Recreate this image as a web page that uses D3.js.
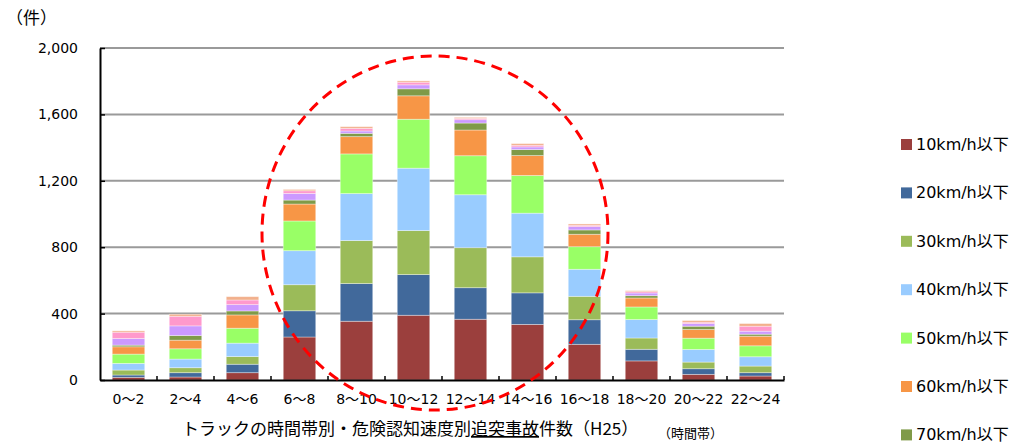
<!DOCTYPE html>
<html>
<head>
<meta charset="utf-8">
<script src="https://cdn.jsdelivr.net/npm/d3@7/dist/d3.min.js"></script>
<style>
  html, body { margin: 0; padding: 0; background: #fff; }
  svg { display: block; }
  text { font-family: "DejaVu Sans", "Noto Sans CJK JP", sans-serif; fill: #000; }
  .jp { font-family: "Noto Sans CJK JP", sans-serif; }
</style>
</head>
<body>
<svg id="chart" width="1021" height="442"></svg>
<script>
// Time bands (hours of day)
const categories = ["0～2", "2～4", "4～6", "6～8", "8～10", "10～12",
                    "12～14", "14～16", "16～18", "18～20", "20～22", "22～24"];

// Speed at which danger was recognised
const seriesNames = ["10km/h以下", "20km/h以下", "30km/h以下", "40km/h以下", "50km/h以下",
                     "60km/h以下", "70km/h以下", "80km/h以下", "90km/h以下", "100km/h以下"];

// Accident counts per time band for each speed class
const v10  = [16, 18, 44, 259, 354, 390, 366, 335, 215, 115, 34, 24];
const v20  = [14, 26, 51, 158, 227, 245, 190, 190, 148, 70, 34, 20];
const v30  = [30, 30, 46, 157, 259, 265, 241, 217, 141, 68, 40, 40];
const v40  = [40, 52, 81, 205, 283, 376, 319, 263, 163, 111, 76, 56];
const v50  = [56, 62, 90, 179, 239, 295, 235, 227, 136, 76, 68, 66];
const v60  = [44, 52, 80, 102, 104, 141, 155, 120, 75, 54, 52, 58];
const v70  = [10, 28, 24, 24, 20, 42, 42, 36, 26, 14, 20, 12];
const v80  = [40, 58, 38, 40, 14, 24, 20, 16, 20, 16, 16, 18];
const v90  = [38, 58, 28, 16, 16, 16, 8, 10, 8, 8, 8, 30];
const v100 = [8, 12, 20, 8, 10, 8, 6, 10, 8, 6, 10, 16];

const yTicks = [0, 400, 800, 1200, 1600, 2000];

const colors = ["#9B3F3D", "#41699B", "#9BBB59", "#99CCFF", "#99FF66",
                "#F79646", "#7F9A48", "#CC99FF", "#FF99CC", "#F2B08C"];

const seriesValues = [v10, v20, v30, v40, v50, v60, v70, v80, v90, v100];

// Rows for the stack layout
const rows = categories.map((c, i) => {
  const r = { cat: c };
  seriesNames.forEach((s, k) => { r[s] = seriesValues[k][i]; });
  return r;
});

const svg = d3.select("#chart");
const plotLeft = 100, plotRight = 784, plotTop = 48, plotBottom = 380;

const x = d3.scaleBand().domain(categories).range([plotLeft, plotRight]).paddingInner(0.43).paddingOuter(0.215);
const y = d3.scaleLinear().domain([0, 2000]).range([plotBottom, plotTop]);

// Horizontal gridlines
svg.append("g")
  .selectAll("line")
  .data(yTicks.filter(t => t > 0))
  .join("line")
  .attr("x1", plotLeft).attr("x2", plotRight)
  .attr("y1", d => y(d)).attr("y2", d => y(d))
  .attr("stroke", "#9A9A9A").attr("stroke-width", 2);

// Stacked bars
const stack = d3.stack().keys(seriesNames)(rows);
svg.append("g")
  .selectAll("g")
  .data(stack)
  .join("g")
  .attr("fill", (d, i) => colors[i])
  .selectAll("rect")
  .data(d => d)
  .join("rect")
  .attr("x", d => x(d.data.cat))
  .attr("width", x.bandwidth())
  .attr("y", d => y(d[1]))
  .attr("height", d => y(d[0]) - y(d[1]))
  .attr("stroke", "#fff").attr("stroke-opacity", 0.45).attr("stroke-width", 0.8);

// Y axis
const yAxis = svg.append("g")
  .attr("transform", `translate(${plotLeft},0)`)
  .call(d3.axisLeft(y).tickValues(yTicks).tickFormat(d3.format(",")).tickSizeInner(-5).tickSizeOuter(0).tickPadding(22));
yAxis.select(".domain").attr("stroke", "#000").attr("stroke-width", 2);
yAxis.selectAll(".tick line").attr("stroke", "#000").attr("stroke-width", 1.5);
yAxis.selectAll(".tick text").attr("font-size", 14).attr("fill", "#000")
  .style("font-family", "'DejaVu Sans', sans-serif");

// X axis with ticks between bands
const xAxis = svg.append("g")
  .attr("transform", `translate(0,${plotBottom})`)
  .call(d3.axisBottom(x).tickSize(0).tickPadding(14));
xAxis.select(".domain").attr("stroke", "#000").attr("stroke-width", 2);
xAxis.selectAll(".tick text").attr("font-size", 14).attr("fill", "#000");

const step = x.step();
svg.append("g")
  .selectAll("line")
  .data(d3.range(1, categories.length + 1))
  .join("line")
  .attr("x1", i => plotLeft + i * step).attr("x2", i => plotLeft + i * step)
  .attr("y1", plotBottom).attr("y2", plotBottom - 4)
  .attr("stroke", "#000").attr("stroke-width", 1.5);

// Units
svg.append("text").attr("class", "jp")
  .attr("x", 6).attr("y", 24).attr("font-size", 17).text("（件）");

// Caption with underlined part
const cap = svg.append("text").attr("class", "jp")
  .attr("x", 182).attr("y", 435).attr("font-size", 17);
cap.append("tspan").text("トラックの時間帯別・危険認知速度別");
cap.append("tspan").attr("text-decoration", "underline").text("追突事故");
cap.append("tspan").text("件数（H25）");

svg.append("text").attr("class", "jp")
  .attr("x", 658).attr("y", 438).attr("font-size", 13).text("（時間帯）");

// Legend (the rows that fit in the frame)
const legend = svg.append("g")
  .selectAll("g")
  .data(seriesNames.slice(0, 7))
  .join("g")
  .attr("transform", (d, i) => `translate(901,${139 + i * 48.4})`);
legend.append("rect")
  .attr("width", 11).attr("height", 11)
  .attr("fill", (d, i) => colors[i]);
legend.append("text")
  .attr("x", 15).attr("y", 11).attr("font-size", 16)
  .text(d => d);

// Dashed ellipse highlighting daytime bands
svg.append("ellipse")
  .attr("cx", 435).attr("cy", 233).attr("rx", 173).attr("ry", 177)
  .attr("fill", "none").attr("stroke", "#FF0000").attr("stroke-width", 3)
  .attr("stroke-dasharray", "11 7");
</script>
</body>
</html>
